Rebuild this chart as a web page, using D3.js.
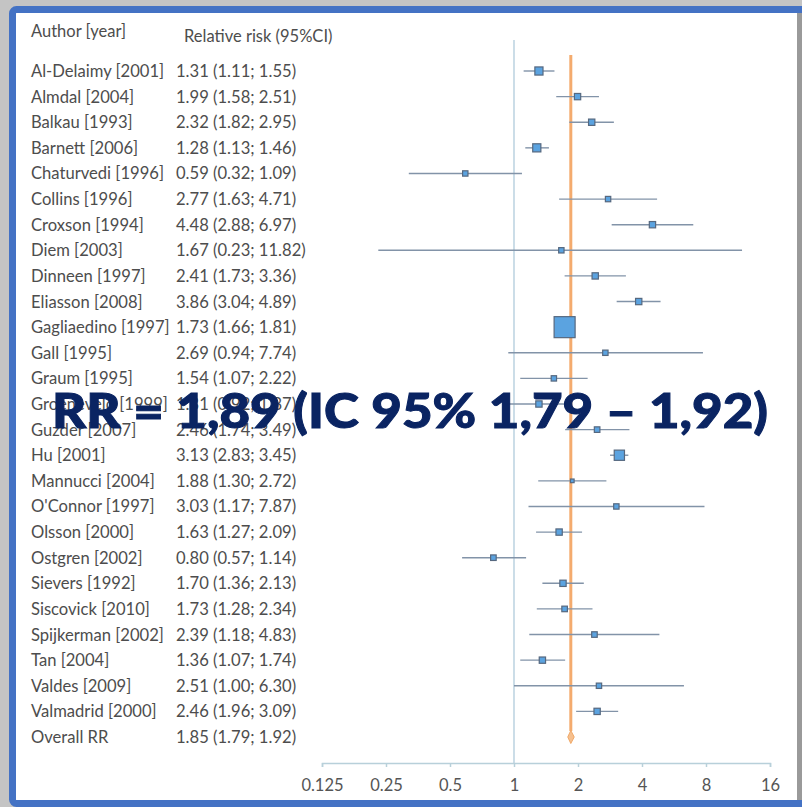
<!DOCTYPE html>
<html>
<head>
<meta charset="utf-8">
<script src="https://cdn.jsdelivr.net/npm/d3@7"></script>
<style>
  html, body { margin: 0; padding: 0; background: #c4c4c4; }
  svg { display: block; }
</style>
</head>
<body>
<svg id="chart" width="802" height="807"></svg>
<script>
// Studies in the meta-analysis, top to bottom
const studies = [
  "Al-Delaimy [2001]", "Almdal [2004]", "Balkau [1993]", "Barnett [2006]",
  "Chaturvedi [1996]", "Collins [1996]", "Croxson [1994]", "Diem [2003]",
  "Dinneen [1997]", "Eliasson [2008]", "Gagliaedino [1997]", "Gall [1995]",
  "Graum [1995]", "Groeneveld [1999]", "Guzder [2007]", "Hu [2001]",
  "Mannucci [2004]", "O'Connor [1997]", "Olsson [2000]", "Ostgren [2002]",
  "Sievers [1992]", "Siscovick [2010]", "Spijkerman [2002]", "Tan [2004]",
  "Valdes [2009]", "Valmadrid [2000]"
];
const rr    = [1.31, 1.99, 2.32, 1.28, 0.59, 2.77, 4.48, 1.67, 2.41, 3.86, 1.73, 2.69, 1.54, 1.31, 2.46, 3.13, 1.88, 3.03, 1.63, 0.80, 1.70, 1.73, 2.39, 1.36, 2.51, 2.46];
const lower = [1.11, 1.58, 1.82, 1.13, 0.32, 1.63, 2.88, 0.23, 1.73, 3.04, 1.66, 0.94, 1.07, 0.92, 1.74, 2.83, 1.30, 1.17, 1.27, 0.57, 1.36, 1.28, 1.18, 1.07, 1.00, 1.96];
const upper = [1.55, 2.51, 2.95, 1.46, 1.09, 4.71, 6.97, 11.82, 3.36, 4.89, 1.81, 7.74, 2.22, 1.87, 3.49, 3.45, 2.72, 7.87, 2.09, 1.14, 2.13, 2.34, 4.83, 1.74, 6.30, 3.09];
// Study weights (%), used for the size of each square
const weight = [6.0, 3.6, 3.6, 6.0, 2.6, 2.6, 3.6, 2.6, 3.6, 3.6, 40.0, 2.6, 2.6, 3.6, 2.8, 9.5, 1.2, 2.6, 3.6, 2.8, 3.6, 2.8, 2.8, 3.6, 2.6, 3.6];

// Pooled estimate
const overallLabel = "Overall RR";
const overall = { rr: 1.85, lo: 1.79, hi: 1.92 };

// Axis ticks
const ticks = [0.125, 0.25, 0.5, 1, 2, 4, 8, 16];
const tickLabels = ["0.125", "0.25", "0.5", "1", "2", "4", "8", "16"];

const headline = "RR = 1,89 (IC 95% 1,79 \u2013 1,92)";

const fmt = v => v.toFixed(2);
const rowLabels = studies.concat([overallLabel]);
const rowText = rr.map((v, i) => `${fmt(v)} (${fmt(lower[i])}; ${fmt(upper[i])})`)
  .concat([`${fmt(overall.rr)} (${fmt(overall.lo)}; ${fmt(overall.hi)})`]);

const svg = d3.select("#chart");

// Slide frame: white panel with blue border, grey shadow on the right
svg.append("rect").attr("x", 0).attr("y", 0).attr("width", 802).attr("height", 807).attr("fill", "#c4c4c4");
svg.append("rect")
  .attr("x", 12.5).attr("y", 9.5).attr("width", 800).attr("height", 794)
  .attr("rx", 4)
  .attr("fill", "#ffffff").attr("stroke", "#4472c4").attr("stroke-width", 7);
svg.append("rect").attr("x", 796).attr("y", 13).attr("width", 6).attr("height", 787).attr("fill", "#9a9a9a");
svg.append("rect").attr("x", 794).attr("y", 13).attr("width", 3).attr("height", 787).attr("fill", "#ffffff");

const x = d3.scaleLog().base(2).domain([0.125, 16]).range([322, 770]);
const y = d3.scalePoint().domain(d3.range(rowLabels.length)).range([71, 737]);

const textFont = "Lato, 'Open Sans', sans-serif";
const textColor = "#4d4d4d";

// Column headers
svg.append("text").attr("x", 31).attr("y", 37)
  .attr("font-family", textFont).attr("font-size", 16.5).attr("fill", textColor)
  .text("Author [year]");
svg.append("text").attr("x", 184).attr("y", 42)
  .attr("font-family", textFont).attr("font-size", 16.5).attr("fill", textColor)
  .text("Relative risk (95%CI)");

// Row labels and estimates
const rows = svg.append("g").attr("font-family", textFont).attr("font-size", 16.6).attr("fill", textColor);
rows.selectAll("text.study").data(rowLabels).join("text")
  .attr("class", "study")
  .attr("x", 31).attr("y", (d, i) => y(i)).attr("dy", "0.36em")
  .text(d => d);
rows.selectAll("text.est").data(rowText).join("text")
  .attr("class", "est")
  .attr("x", 176).attr("y", (d, i) => y(i)).attr("dy", "0.36em")
  .text(d => d);

// Line of no effect
svg.append("line")
  .attr("x1", x(1)).attr("x2", x(1)).attr("y1", 40).attr("y2", 763)
  .attr("stroke", "#a9c7d8").attr("stroke-width", 1.2);

// Axis
const axis = d3.axisBottom(x).tickValues(ticks).tickFormat((d, i) => tickLabels[i]).tickSize(4).tickPadding(12);
const axG = svg.append("g").attr("transform", "translate(0,763)").call(axis);
axG.select(".domain").attr("stroke", "#b8d0da").attr("stroke-width", 1.5);
axG.selectAll(".tick line").attr("stroke", "#b8d0da").attr("stroke-width", 1.5);
axG.selectAll(".tick text").attr("font-family", textFont).attr("font-size", 16.5).attr("fill", "#555555");

// Pooled estimate line
const yDiamond = y(rowLabels.length - 1);
svg.append("line")
  .attr("x1", x(overall.rr)).attr("x2", x(overall.rr)).attr("y1", 55).attr("y2", yDiamond - 6)
  .attr("stroke", "#f4ab6e").attr("stroke-width", 3);

// Confidence intervals
const size = d3.scaleSqrt().domain([0, 40]).range([0, 21]);
const marks = svg.append("g");
marks.selectAll("line").data(studies).join("line")
  .attr("x1", (d, i) => x(lower[i])).attr("x2", (d, i) => x(upper[i]))
  .attr("y1", (d, i) => y(i)).attr("y2", (d, i) => y(i))
  .attr("stroke", "#8293a8").attr("stroke-width", 1.4);
marks.selectAll("rect").data(studies).join("rect")
  .attr("x", (d, i) => x(rr[i]) - size(weight[i]) / 2)
  .attr("y", (d, i) => y(i) - size(weight[i]) / 2)
  .attr("width", (d, i) => size(weight[i]))
  .attr("height", (d, i) => size(weight[i]))
  .attr("fill", "#5ba3e0").attr("stroke", "#56687f").attr("stroke-width", 1.2);

// Pooled diamond
const dh = 6.5;
svg.append("path")
  .attr("d", `M${x(overall.lo)},${yDiamond} L${x(overall.rr)},${yDiamond - dh} L${x(overall.hi)},${yDiamond} L${x(overall.rr)},${yDiamond + dh} Z`)
  .attr("fill", "#f6c08f").attr("stroke", "#f0a867").attr("stroke-width", 1);

// Headline overlay
svg.append("text")
  .attr("x", 52).attr("y", 428)
  .attr("font-family", "Lato, 'Open Sans', sans-serif").attr("font-weight", 900)
  .attr("font-size", 48).attr("fill", "#0a2462")
  .attr("stroke", "#0a2462").attr("stroke-width", 1)
  .attr("textLength", 716).attr("lengthAdjust", "spacingAndGlyphs")
  .text(headline);
</script>
</body>
</html>
